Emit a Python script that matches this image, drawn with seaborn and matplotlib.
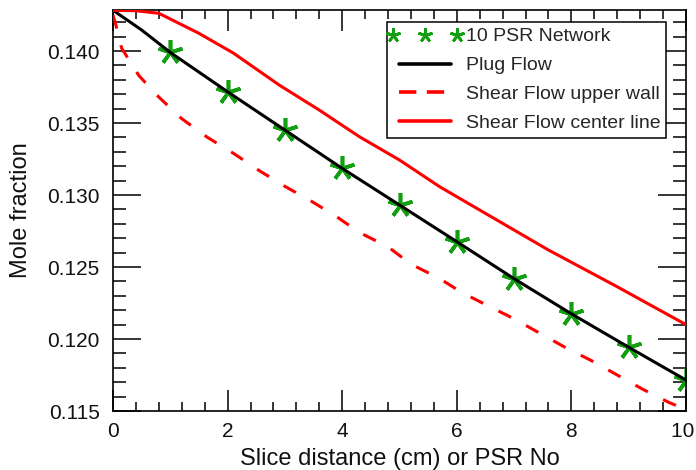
import matplotlib
matplotlib.use("Agg")
import matplotlib.pyplot as plt
from matplotlib.lines import Line2D
from matplotlib.legend_handler import HandlerLine2D
from matplotlib.ticker import MultipleLocator, FormatStrFormatter, FuncFormatter
import seaborn as sns
import pandas as pd

# 10 PSR network results (one value per reactor)
psr_x = [1, 2, 3, 4, 5, 6, 7, 8, 9, 10]
psr_y = [0.13990, 0.13717, 0.13451, 0.13185, 0.12931,
         0.12676, 0.12419, 0.12175, 0.11943, 0.11715]

# Plug flow profile
plug_x = [0, 0.5, 1, 2, 3, 4, 5, 6, 7, 8, 9, 10]
plug_y = [0.14283, 0.14146, 0.13990, 0.13717, 0.13451, 0.13185,
          0.12931, 0.12676, 0.12419, 0.12175, 0.11943, 0.11715]

# Shear flow, upper wall
wall_x = [0, 0.05, 0.15, 0.45, 0.8, 1.2, 1.65, 2.1, 2.55, 3.0, 3.45, 3.9, 4.3,
          4.8, 5.2, 5.7, 6.1, 6.55, 7.0, 7.45, 7.9, 8.35, 8.8, 9.25, 9.7, 10]
wall_y = [0.1425, 0.1418, 0.1402, 0.1383, 0.1368, 0.1353, 0.1340, 0.1329,
          0.1317, 0.1306, 0.1296, 0.1285, 0.1274, 0.1264, 0.1252, 0.1242,
          0.1232, 0.1223, 0.1214, 0.1204, 0.1194, 0.1185, 0.1175, 0.1165,
          0.1156, 0.1151]

# Shear flow, center line
center_x = [0, 0.4, 0.8, 1.5, 2.1, 2.9, 3.6, 4.3, 5.0, 5.7, 6.2, 7.6, 8.8, 10]
center_y = [0.14283, 0.14280, 0.14262, 0.14123, 0.13986, 0.13764, 0.13590,
            0.13405, 0.13243, 0.13058, 0.12942, 0.12618, 0.12363, 0.12100]

labels = ["10 PSR Network", "Plug Flow", "Shear Flow upper wall",
          "Shear Flow center line"]

GREEN = "#12a012"
RED = "#ff0000"
STAR = (5, 2, 0)

sns.set_style("ticks")
plt.rcParams["font.family"] = ["Liberation Sans", "DejaVu Sans"]

fig = plt.figure(figsize=(6.96, 4.70), dpi=100)
ax = fig.add_axes([0.1624, 0.1255, 0.8232, 0.8532])

psr = pd.DataFrame({"x": psr_x, "y": psr_y})
plug = pd.DataFrame({"x": plug_x, "y": plug_y})
wall = pd.DataFrame({"x": wall_x, "y": wall_y})
center = pd.DataFrame({"x": center_x, "y": center_y})

sns.lineplot(data=psr, x="x", y="y", ax=ax, color=GREEN, linestyle="none",
             marker=STAR, markersize=18, markeredgewidth=2.6,
             markeredgecolor=GREEN, zorder=2)
sns.lineplot(data=plug, x="x", y="y", ax=ax, color="black", lw=2.2, zorder=3)
sns.lineplot(data=wall, x="x", y="y", ax=ax, color=RED, lw=2.2,
             dashes=False, zorder=3)
ax.lines[-1].set_dashes((4.6, 5.6))
ax.lines[-1].set_dash_capstyle("butt")
sns.lineplot(data=center, x="x", y="y", ax=ax, color=RED, lw=2.2, zorder=3)

ax.set_xlim(0, 10)
ax.set_ylim(0.115, 0.14285)


def x_label(v, _pos):
    # the right-most label gets a trailing space so it stays on the canvas
    return "10 " if abs(v - 10) < 1e-9 else f"{v:.0f}"


ax.xaxis.set_major_locator(MultipleLocator(2))
ax.xaxis.set_minor_locator(MultipleLocator(0.4))
ax.yaxis.set_major_locator(MultipleLocator(0.005))
ax.yaxis.set_minor_locator(MultipleLocator(0.001))
ax.yaxis.set_major_formatter(FormatStrFormatter("%.3f"))
ax.xaxis.set_major_formatter(FuncFormatter(x_label))

ax.tick_params(which="both", direction="in", top=True, right=True,
               color="black", labelsize=15, labelcolor="#111111")
ax.tick_params(axis="y", which="major", length=20, width=1.1, pad=9.5)
ax.tick_params(axis="y", which="minor", length=9.5, width=1.1)
ax.tick_params(axis="x", which="major", length=15, width=1.1, pad=8)
ax.tick_params(axis="x", which="minor", length=6.5, width=1.1)

for s in ax.spines.values():
    s.set_color("black")
    s.set_linewidth(1.2)

ax.set_xlabel("Slice distance (cm) or PSR No", fontsize=17, labelpad=5,
              color="#111111")
ax.set_ylabel("Mole fraction", fontsize=17, labelpad=11, color="#111111")

handles = [
    Line2D([], [], color=GREEN, linestyle="none", marker=STAR,
           markersize=10.5, markeredgewidth=2.0),
    Line2D([], [], color="black", lw=2.6),
    Line2D([], [], color=RED, lw=2.6, dashes=(4.8, 2.9)),
    Line2D([], [], color=RED, lw=2.6),
]
leg = ax.legend(handles, labels, loc="upper left",
                bbox_to_anchor=(0.478, 0.970), borderaxespad=0,
                fontsize=14, numpoints=3, handlelength=3.3,
                handletextpad=0.45, labelspacing=0.58, borderpad=0.3,
                frameon=True, fancybox=False, framealpha=1,
                handler_map={handles[0]: HandlerLine2D(marker_pad=0.0,
                                                       numpoints=3)})
leg.get_frame().set_edgecolor("black")
leg.get_frame().set_linewidth(1.1)

fig.savefig("out.png", dpi=100)
